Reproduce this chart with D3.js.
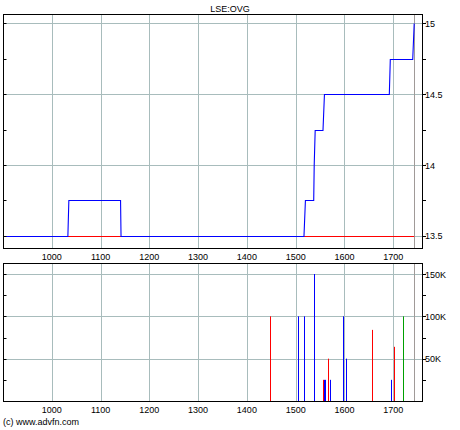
<!DOCTYPE html>
<html><head><meta charset="utf-8">
<script src="https://cdn.jsdelivr.net/npm/d3@7"></script>
<style>
body{margin:0;background:#fff;}
text{font-family:"Liberation Sans",Arial,sans-serif;font-size:9px;fill:#000;}
</style></head>
<body><svg id="c" width="460" height="430"></svg>
<script>
// ---- data ----
const title = "LSE:OVG";
const xTicks = [1000, 1100, 1200, 1300, 1400, 1500, 1600, 1700];
const lastDate = 1743;
// price (blue) path points
const priceDates  = [900, 1033, 1035, 1141, 1142, 1517, 1520, 1537, 1538, 1540, 1556, 1559, 1692, 1694, 1740, 1743];
const priceValues = [13.5, 13.5, 13.75, 13.75, 13.5, 13.5, 13.75, 13.75, 14.0, 14.25, 14.25, 14.5, 14.5, 14.75, 14.75, 15];
// reference (red) line
const refDates  = [900, 1743];
const refValues = [13.5, 13.5];
const priceTicks = [13.5, 14, 14.5, 15];
const priceTickLabels = ["13.5", "14", "14.5", "15"];
const priceMinorTicks = [13.75, 14.25, 14.75];
// volume
const volDates  = [1448, 1504, 1517, 1538, 1557, 1559, 1561, 1567, 1571, 1598, 1604, 1657, 1696, 1702, 1720];
const volValues = [100000, 100000, 100000, 150000, 25000, 25000, 25000, 50000, 25000, 100000, 50000, 84000, 25000, 64000, 100000];
const volTypes  = ["down", "up", "up", "up", "down", "up", "up", "down", "up", "up", "up", "down", "up", "down", "flat"];
const volTicks = [50000, 100000, 150000];
const volTickLabels = ["50K", "100K", "150K"];
const volMinorTicks = [25000, 75000, 125000];
const copyright = "(c) www.advfn.com";

// ---- chart ----
const svg = d3.select("#c");
const L = 3, R = 422;
const x = d3.scaleLinear().domain([900, 1759]).range([L, R]);
const yP = d3.scaleLinear().domain([13.415, 15.065]).range([248, 14]);
const yV = d3.scaleLinear().domain([0, 163000]).range([401, 263]);
const typeColor = {up: "#0000ff", down: "#ff0000", flat: "#00a000"};
const gridColor = "#a8bcbc";
const cx = v => Math.round(x(v)) + 0.5;
const cy = (s, v) => Math.round(s(v)) + 0.5;

svg.append("text").attr("x", 230).attr("y", 12).attr("text-anchor", "middle").text(title);

function panel(y, top, bottom, ticks) {
  const g = svg.append("g");
  xTicks.forEach(t => g.append("line").attr("x1", cx(t)).attr("x2", cx(t))
    .attr("y1", top).attr("y2", bottom).attr("stroke", gridColor).attr("stroke-width", 1));
  ticks.forEach(t => g.append("line").attr("x1", L).attr("x2", R)
    .attr("y1", cy(y, t)).attr("y2", cy(y, t)).attr("stroke", gridColor).attr("stroke-width", 1));
  g.append("line").attr("x1", cx(lastDate)).attr("x2", cx(lastDate))
    .attr("y1", top).attr("y2", bottom).attr("stroke", "#a09a98").attr("stroke-width", 1);
  return g;
}

function frame(y, top, bottom, ticks, labels, minor) {
  const g = svg.append("g");
  g.append("rect").attr("x", L + 0.5).attr("y", top + 0.5).attr("width", R - L).attr("height", bottom - top)
    .attr("fill", "none").attr("stroke", "#000").attr("stroke-width", 1);
  ticks.concat(minor).forEach(t => {
    g.append("line").attr("x1", R + 0.5).attr("x2", R + 4).attr("y1", cy(y, t)).attr("y2", cy(y, t)).attr("stroke", "#000");
    g.append("line").attr("x1", L + 0.5).attr("x2", L + 3.5).attr("y1", cy(y, t)).attr("y2", cy(y, t)).attr("stroke", "#000");
  });
  ticks.forEach((t, i) => g.append("text").attr("x", 425).attr("y", y(t) + 3.5).text(labels[i]));
  xTicks.forEach(t => g.append("text").attr("x", x(t)).attr("y", bottom + 12).attr("text-anchor", "middle").text(t));
}

// top panel
panel(yP, 14, 248, priceTicks);
const line = d3.line().x(d => x(d[0])).y(d => Math.round(yP(d[1])) + 0.5);
svg.append("path").datum(d3.zip(refDates, refValues)).attr("d", line)
  .attr("fill", "none").attr("stroke", "#ff0000").attr("stroke-width", 1.1);
svg.append("path").datum(d3.zip(priceDates, priceValues)).attr("d", line)
  .attr("fill", "none").attr("stroke", "#0000ff").attr("stroke-width", 1.1);
frame(yP, 14, 248, priceTicks, priceTickLabels, priceMinorTicks);

// bottom panel
panel(yV, 263, 401, volTicks);
svg.append("g").selectAll("line").data(d3.range(volDates.length)).join("line")
  .attr("x1", i => cx(volDates[i])).attr("x2", i => cx(volDates[i]))
  .attr("y1", yV(0)).attr("y2", i => yV(volValues[i]))
  .attr("stroke", i => typeColor[volTypes[i]]).attr("stroke-width", 1);
frame(yV, 263, 401, volTicks, volTickLabels, volMinorTicks);

svg.append("text").attr("x", 3).attr("y", 425).text(copyright);
</script></body></html>
